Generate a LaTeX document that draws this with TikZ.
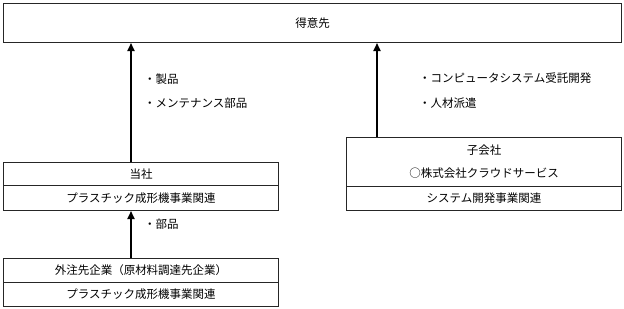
\documentclass[tikz,border=0pt]{standalone}
\usepackage{fontspec}
\newfontfamily\jpfont{Noto Sans CJK JP}
\usetikzlibrary{arrows.meta}
\begin{document}
\begin{tikzpicture}[x=1pt,y=-1pt,
  font=\jpfont\fontsize{11.5}{14}\selectfont,
  boxpart/.style={draw=black!85,line width=1pt,rectangle,inner sep=0pt,anchor=north west,align=center},
  arr/.style={line width=1.8pt,-{Triangle[length=8pt,width=7pt]}},
  lbl/.style={anchor=west,inner sep=0pt}]
\useasboundingbox (0,0) rectangle (624,308);
% top
\node[boxpart,minimum width=618pt,minimum height=39pt] (tokui) at (3,3) {得意先};
% left (当社)
\node[boxpart,minimum width=275pt,minimum height=23pt] (toshaA) at (3,162) {当社};
\node[boxpart,minimum width=275pt,minimum height=25pt] (toshaB) at (3,185) {プラスチック成形機事業関連};
% right (子会社)
\node[boxpart,minimum width=275pt,minimum height=49pt] (koA) at (346,137) {子会社\\[9pt]○株式会社クラウドサービス};
\node[boxpart,minimum width=275pt,minimum height=24pt] (koB) at (346,186) {システム開発事業関連};
% bottom (外注先)
\node[boxpart,minimum width=275pt,minimum height=24pt] (gaiA) at (3,258) {外注先企業（原材料調達先企業）};
\node[boxpart,minimum width=275pt,minimum height=24pt] (gaiB) at (3,282) {プラスチック成形機事業関連};
% arrows
\draw[arr] ([xshift=128pt]toshaA.north west) -- ([xshift=128pt]tokui.south west);
\draw[arr] ([xshift=31pt]koA.north west) -- ([xshift=374pt]tokui.south west);
\draw[arr] ([xshift=128pt]gaiA.north west) -- ([xshift=128pt]toshaB.south west);
% labels
\node[lbl] (l1) at (144,79) {・製品};
\node[lbl] (l2) at (144,103) {・メンテナンス部品};
\node[lbl] (l3) at (419,78) {・コンピュータシステム受託開発};
\node[lbl] (l4) at (419,103) {・人材派遣};
\node[lbl] (l5) at (144,224) {・部品};
\end{tikzpicture}
\end{document}
